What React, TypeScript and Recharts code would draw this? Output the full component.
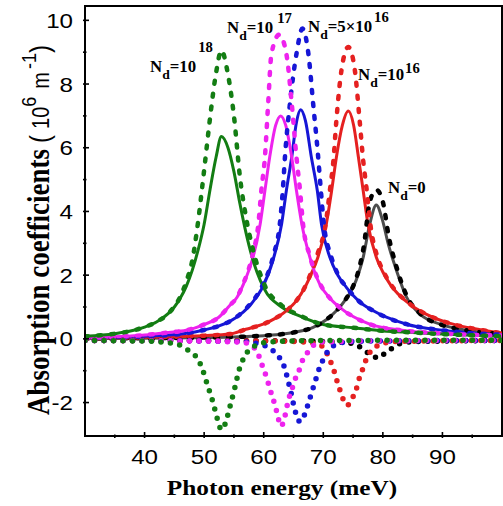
import React from 'react';
import { LineChart, Line, XAxis, YAxis, ReferenceArea } from 'recharts';

type Pt = [number, number];

// Photon energy (meV) -> absorption coefficient (10^6 m^-1)
// Solid: total, dashed: linear term, dotted: third-order (nonlinear) term.

// N_d = 10^18
const nd18Total: Pt[] = [[30,0.08],[35,0.16],[38,0.26],[40,0.37],[42,0.53],[44,0.8],[45,1.0],[46,1.28],[47,1.65],[48,2.15],[49,2.8],[50,3.6],[51,4.7],[52,5.7],[52.9,6.35],[54,6.0],[55,5.25],[56,4.25],[57,3.35],[58,2.6],[60,1.6],[63,1.0],[66,0.72],[70,0.45],[75,0.35],[80,0.25],[85,0.2],[90,0.15],[100,0.08]];
const nd18Linear: Pt[] = [[30,0.08],[35,0.16],[38,0.26],[40,0.37],[42,0.53],[44,0.8],[45,1.02],[46,1.32],[47,1.8],[48,2.45],[49,3.7],[50,5.3],[51,6.95],[52,8.35],[52.9,9.05],[54,8.3],[55,7.0],[56,5.1],[57,3.85],[58,2.95],[60,1.75],[63,1.05],[66,0.74],[70,0.45],[75,0.35],[80,0.25],[85,0.2],[90,0.15],[100,0.08]];
const nd18Nonlinear: Pt[] = [[30,-0.05],[36,-0.06],[40,-0.07],[43,-0.1],[45,-0.15],[46.2,-0.22],[47.6,-0.4],[49,-0.65],[49.8,-1.0],[50.5,-1.42],[51.5,-2.0],[52.2,-2.5],[52.9,-2.85],[53.5,-2.68],[54.3,-2.15],[55.2,-1.5],[55.8,-1.02],[56.8,-0.55],[58.5,-0.22],[61,-0.1],[66,-0.06],[75,-0.05],[100,-0.04]];

// N_d = 10^17
const nd17Total: Pt[] = [[30,0.03],[36,0.07],[40,0.12],[44,0.2],[47,0.27],[50,0.45],[52.4,0.67],[54.3,1.05],[55.5,1.3],[56.6,1.72],[57.5,2.15],[58.2,2.56],[59.4,3.6],[60.2,4.65],[61,5.7],[62,6.7],[62.85,7.0],[63.7,6.7],[64.7,5.7],[65.5,4.65],[66.4,3.6],[67.75,2.56],[69.4,1.72],[71,1.3],[72.8,0.98],[75,0.7],[77.8,0.46],[84,0.25],[90,0.17],[100,0.1]];
const nd17Linear: Pt[] = [[30,0.03],[36,0.07],[40,0.12],[44,0.2],[47,0.27],[50,0.45],[52.4,0.67],[54.3,1.05],[55.5,1.3],[56.6,1.75],[57.5,2.2],[58.2,2.7],[59.1,3.6],[59.6,4.65],[60.2,5.7],[60.75,7.4],[61.3,8.95],[62.6,9.55],[63.8,8.95],[64.7,7.4],[65.5,5.7],[66.1,4.65],[66.6,3.6],[67.75,2.6],[69.4,1.75],[71,1.3],[72.8,0.98],[75,0.7],[77.8,0.46],[84,0.25],[90,0.17],[100,0.1]];
const nd17Nonlinear: Pt[] = [[30,-0.05],[40,-0.06],[50,-0.07],[54,-0.09],[56.8,-0.12],[58,-0.22],[58.8,-0.38],[59.4,-0.64],[59.9,-0.92],[60.5,-1.22],[61,-1.55],[61.6,-1.9],[62.2,-2.3],[62.9,-2.74],[63.6,-2.4],[64.1,-1.95],[64.7,-1.61],[65.2,-1.3],[65.8,-1.06],[66.6,-0.64],[67.5,-0.4],[68.6,-0.17],[70,-0.1],[80,-0.06],[100,-0.05]];

// N_d = 5x10^16
const nd5e16Total: Pt[] = [[30,0.03],[40,0.08],[46.8,0.17],[50,0.28],[52.4,0.4],[54.3,0.55],[56.6,0.85],[58,1.12],[59.6,1.55],[61.6,2.5],[63,3.6],[63.8,4.65],[64.7,5.7],[65.5,6.8],[66.2,7.19],[67,6.85],[68,5.7],[69,4.65],[69.7,3.6],[71.1,2.56],[72.5,1.98],[73.9,1.61],[76,1.18],[78.4,0.88],[84,0.46],[90,0.27],[100,0.13]];
const nd5e16Linear: Pt[] = [[30,0.03],[40,0.08],[46.8,0.17],[50,0.28],[52.4,0.4],[54.3,0.55],[56.6,0.87],[58,1.15],[59.6,1.6],[61.6,2.6],[62.7,3.6],[63.2,4.65],[63.6,5.8],[64.4,7.38],[65.5,8.95],[66.5,9.74],[67.5,8.95],[68.3,7.38],[69.1,5.8],[69.6,4.65],[70.1,3.6],[71.3,2.6],[72.5,2.0],[73.9,1.62],[76,1.18],[78.4,0.88],[84,0.46],[90,0.27],[100,0.13]];
const nd5e16Nonlinear: Pt[] = [[30,-0.05],[45,-0.06],[55,-0.08],[58,-0.12],[60,-0.2],[61.3,-0.33],[62.4,-0.53],[63.3,-0.8],[63.8,-1.1],[64.2,-1.4],[64.6,-1.7],[65,-2.05],[65.5,-2.4],[66.1,-2.6],[66.7,-2.45],[67.2,-2.2],[67.7,-1.9],[68.2,-1.6],[68.7,-1.3],[69.2,-1.0],[69.8,-0.72],[70.8,-0.38],[72.2,-0.17],[75,-0.08],[85,-0.06],[100,-0.05]];

// N_d = 10^16
const nd16Total: Pt[] = [[30,0.02],[40,0.05],[50,0.1],[54.3,0.15],[57,0.3],[59.9,0.46],[62,0.65],[63.8,0.88],[65.5,1.2],[66.9,1.61],[68,2.05],[69.1,2.56],[70.5,3.6],[71.4,4.65],[72.2,5.7],[73.2,6.7],[74.2,7.15],[75.1,6.7],[75.9,5.7],[76.7,4.65],[77.5,3.6],[78.9,2.56],[80,2.1],[81.2,1.72],[84.5,1.09],[87,0.8],[91,0.5],[95,0.33],[100,0.18]];
const nd16Linear: Pt[] = [[30,0.02],[40,0.05],[50,0.1],[54.3,0.15],[57,0.3],[59.9,0.46],[62,0.65],[63.8,0.88],[65.5,1.2],[66.9,1.62],[68,2.1],[69.1,2.7],[70.4,3.6],[71.1,4.65],[71.7,5.6],[72.2,6.86],[73.05,8.43],[74.2,9.16],[75.3,8.43],[76.1,6.86],[76.7,5.6],[77.3,4.65],[77.9,3.6],[79.1,2.56],[80,2.15],[81.2,1.75],[84.5,1.1],[87,0.8],[91,0.5],[95,0.33],[100,0.18]];
const nd16Nonlinear: Pt[] = [[30,-0.05],[50,-0.06],[62,-0.07],[66,-0.09],[68.5,-0.15],[69.7,-0.22],[70.8,-0.53],[71.4,-0.8],[71.9,-1.06],[72.3,-1.32],[72.8,-1.61],[73.3,-1.88],[74,-2.09],[74.8,-1.88],[75.5,-1.61],[75.9,-1.32],[76.4,-1.06],[76.9,-0.8],[77.4,-0.55],[78.2,-0.35],[79.2,-0.2],[80.5,-0.12],[83,-0.08],[100,-0.05]];

// N_d = 0
const nd0Total: Pt[] = [[30,0.01],[45,0.03],[55,0.06],[60,0.1],[65,0.2],[68.3,0.36],[70.5,0.6],[72.2,0.88],[73.8,1.25],[75,1.61],[76,2.1],[76.7,2.56],[77.8,3.6],[78.9,4.2],[79.9,3.75],[80.9,2.98],[82.3,2.14],[84,1.3],[86.2,0.78],[89.6,0.46],[94,0.27],[100,0.15]];
const nd0Linear: Pt[] = [[30,0.01],[45,0.03],[55,0.06],[60,0.1],[65,0.2],[68.3,0.36],[70.5,0.6],[72.2,0.88],[73.8,1.25],[75,1.65],[76,2.2],[76.8,2.9],[77.8,4.3],[78.9,4.68],[80,4.3],[81,3.2],[82.3,2.25],[84,1.35],[86.2,0.8],[89.6,0.46],[94,0.27],[100,0.15]];
const nd0Nonlinear: Pt[] = [[30,-0.05],[60,-0.06],[70,-0.08],[74,-0.12],[75.9,-0.22],[77,-0.38],[78.1,-0.5],[79.1,-0.6],[80.3,-0.46],[81.5,-0.3],[82.6,-0.17],[85,-0.09],[100,-0.05]];

const xTicks = [35, 40, 45, 50, 55, 60, 65, 70, 75, 80, 85, 90, 95];
const yTicks = [-2, -1, 0, 1, 2, 3, 4, 5, 6, 7, 8, 9, 10];
const xLabelled = [40, 50, 60, 70, 80, 90];
const yLabelled = [-2, 0, 2, 4, 6, 8, 10];

const GREEN = '#137d13';
const MAGENTA = '#ee22ee';
const BLUE = '#1616d6';
const RED = '#e52020';
const BLACK = '#000000';
const GREY = '#4d4d4d';

const SANS = '"Liberation Sans", Arial, sans-serif';
const SERIF = '"Liberation Serif", "Times New Roman", serif';
const SX = 1.15; // glyphs are drawn a little wider than tall

type Kind = 'total' | 'linear' | 'nonlinear';
const curves: { id: string; pts: Pt[]; color: string; kind: Kind }[] = [
  { id: 'nd0-total', pts: nd0Total, color: GREY, kind: 'total' },
  { id: 'nd16-total', pts: nd16Total, color: RED, kind: 'total' },
  { id: 'nd5e16-total', pts: nd5e16Total, color: BLUE, kind: 'total' },
  { id: 'nd17-total', pts: nd17Total, color: MAGENTA, kind: 'total' },
  { id: 'nd18-total', pts: nd18Total, color: GREEN, kind: 'total' },
  { id: 'nd0-linear', pts: nd0Linear, color: BLACK, kind: 'linear' },
  { id: 'nd16-linear', pts: nd16Linear, color: RED, kind: 'linear' },
  { id: 'nd5e16-linear', pts: nd5e16Linear, color: BLUE, kind: 'linear' },
  { id: 'nd17-linear', pts: nd17Linear, color: MAGENTA, kind: 'linear' },
  { id: 'nd18-linear', pts: nd18Linear, color: GREEN, kind: 'linear' },
  { id: 'nd0-nonlinear', pts: nd0Nonlinear, color: BLACK, kind: 'nonlinear' },
  { id: 'nd16-nonlinear', pts: nd16Nonlinear, color: RED, kind: 'nonlinear' },
  { id: 'nd5e16-nonlinear', pts: nd5e16Nonlinear, color: BLUE, kind: 'nonlinear' },
  { id: 'nd17-nonlinear', pts: nd17Nonlinear, color: MAGENTA, kind: 'nonlinear' },
  { id: 'nd18-nonlinear', pts: nd18Nonlinear, color: GREEN, kind: 'nonlinear' },
];

const strokeFor = (kind: Kind) => {
  if (kind === 'total') return { strokeWidth: 3, dash: undefined };
  if (kind === 'linear') return { strokeWidth: 4.5, dash: '3 10' };
  return { strokeWidth: 5.5, dash: '0 9.5' };
};

const toRows = (pts: Pt[]) => pts.map(([e, a]) => ({ e, a }));

// Wide-glyph text helper
function WText(props: {
  x: number; y: number; anchor?: 'start' | 'middle' | 'end'; size: number;
  family: string; bold?: boolean; rotate?: boolean; children: React.ReactNode;
}) {
  const { x, y, anchor = 'start', size, family, bold, rotate, children } = props;
  return (
    <g transform={`translate(${x} ${y}) scale(${SX} 1)${rotate ? ' rotate(-90)' : ''}`}>
      <text x={0} y={0} textAnchor={anchor} fontSize={size} fontFamily={family}
        fontWeight={bold ? 'bold' : 'normal'} fill="#000">{children}</text>
    </g>
  );
}

const XTick = (p: any) => {
  const v = p.payload.value as number;
  const major = xLabelled.includes(v);
  return (
    <g>
      <line x1={p.x} x2={p.x} y1={p.y} y2={p.y - (major ? 6 : 3.5)} stroke="#000" strokeWidth={1.6} />
      {major && <WText x={p.x} y={p.y + 26} anchor="middle" size={21} family={SANS}>{v}</WText>}
    </g>
  );
};

const YTick = (p: any) => {
  const v = p.payload.value as number;
  const major = yLabelled.includes(v);
  return (
    <g>
      <line x1={p.x} x2={p.x + (major ? 6 : 3.5)} y1={p.y} y2={p.y} stroke="#000" strokeWidth={1.6} />
      {major && <WText x={p.x - 10} y={p.y + 7.5} anchor="end" size={21} family={SANS}>{v}</WText>}
    </g>
  );
};

// Curve labels: N_d = value
function NdLabel(props: { x: number; y: number; base: string; exp?: string; expDx?: number; expDy?: number }) {
  const { x, y, base, exp, expDx = 0, expDy = -9 } = props;
  return (
    <g transform={`translate(${x} ${y}) scale(1.05 1)`} fontFamily={SERIF} fontWeight="bold" fill="#000">
      <text x={0} y={0} fontSize={16}>
        N<tspan fontSize={13} dy={7}>d</tspan><tspan fontSize={16} dy={-7}>{base}</tspan>
        {exp && <tspan fontSize={14} dx={expDx} dy={expDy}>{exp}</tspan>}
      </text>
    </g>
  );
}

export default function App() {
  return (
    <div style={{ position: 'absolute', left: 0, top: 0, width: 503, height: 506, background: '#fff' }}>
      <LineChart width={503} height={506} margin={{ top: 6, right: 1, bottom: 0, left: 0 }}>
        <XAxis dataKey="e" type="number" domain={[30, 100]} ticks={xTicks} allowDataOverflow
          height={70} tickSize={0} tickLine={false} tick={<XTick />} interval={0}
          axisLine={{ stroke: '#000', strokeWidth: 2 }} />
        <YAxis type="number" domain={[-3.05, 10.45]} ticks={yTicks} allowDataOverflow
          width={85} tickSize={0} tickLine={false} tick={<YTick />} interval={0}
          axisLine={{ stroke: '#000', strokeWidth: 2 }} />
        <ReferenceArea x1={30} x2={100} y1={-3.05} y2={10.45} fill="none" fillOpacity={0}
          stroke="#000" strokeWidth={2} ifOverflow="visible" />
        {curves.map((c) => {
          const s = strokeFor(c.kind);
          return (
            <Line key={c.id} data={toRows(c.pts)} dataKey="a" type="monotone" stroke={c.color}
              strokeWidth={s.strokeWidth} strokeDasharray={s.dash}
              style={s.dash ? { strokeDasharray: s.dash } : undefined} strokeLinecap="round"
              dot={false} activeDot={false} isAnimationActive={false} legendType="none" />
          );
        })}
        <NdLabel x={150} y={72} base="=10" exp="18" expDx={2} expDy={-20} />
        <NdLabel x={227} y={33} base="=10" exp="17" expDx={4} expDy={-10} />
        <NdLabel x={308} y={32} base="=5×10" exp="16" expDx={2} expDy={-10} />
        <NdLabel x={358} y={80} base="=10" exp="16" expDx={1} expDy={-7} />
        <NdLabel x={388} y={193} base="=0" />
        <WText x={49} y={415} size={27} family={SERIF} bold rotate>
          Absorption coefficients
          <tspan fontFamily={SANS} fontWeight="normal" fontSize={24} dx={6}>(</tspan>
          <tspan fontFamily={SANS} fontWeight="normal" fontSize={20} dx={6}>10</tspan>
          <tspan fontFamily={SANS} fontWeight="normal" fontSize={18} dy={-11}>6</tspan>
          <tspan fontFamily={SANS} fontWeight="normal" fontSize={20} dx={8} dy={11}>m</tspan>
          <tspan fontFamily={SANS} fontWeight="normal" fontSize={18} dx={3} dy={-11}>-1</tspan>
          <tspan fontFamily={SANS} fontWeight="normal" fontSize={24} dy={11}>)</tspan>
        </WText>
        <WText x={282} y={495} anchor="middle" size={22} family={SERIF} bold>Photon energy (meV)</WText>
      </LineChart>
    </div>
  );
}
